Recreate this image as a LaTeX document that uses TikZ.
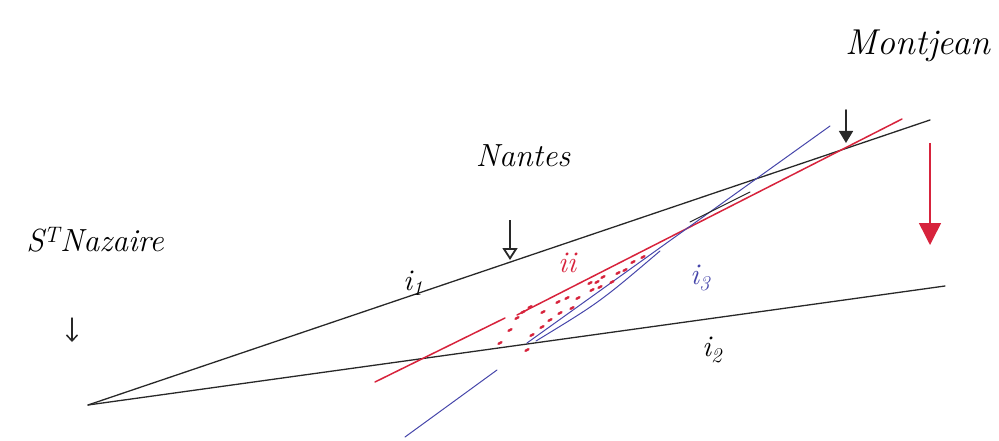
\documentclass[tikz,border=0pt]{standalone}
\usepackage{fontspec}
\usetikzlibrary{arrows.meta}
\definecolor{pred}{RGB}{215,35,60}
\definecolor{pblue}{RGB}{70,70,170}
\definecolor{pink}{RGB}{40,40,40}
\tikzset{
  pen/.style={draw=pink, line width=1.3pt, line cap=round},
  redpen/.style={draw=pred, line width=1.5pt, line cap=round},
  bluepen/.style={draw=pblue, line width=1.0pt, line cap=round},
  reddot/.style={draw=pred, line width=2.4pt, line cap=round},
  hand/.style={inner sep=0pt, font=\itshape},
  placearrow/.style={draw=pink, line width=1.6pt, -{Triangle[open, length=12pt, width=15pt, line width=1.8pt]}},
}
\begin{document}
\begin{tikzpicture}[x=1pt,y=-1pt]
\useasboundingbox (0,0) rectangle (999,441);
% main frame lines
\coordinate (A) at (88,405);
\coordinate (U) at (930,120);
\coordinate (L) at (945,286);
\draw[pen] (A) -- (U);
\draw[pen] (A) -- (L);
% red line
\coordinate (r1) at (375,382);
\coordinate (r2) at (505,318);
\coordinate (r3) at (517,315);
\coordinate (r4) at (902,119);
\draw[redpen] (r1) -- (r2);
\draw[redpen] (r3) -- (r4);
% blue line
\coordinate (b1) at (405,437);
\coordinate (b2) at (497,370);
\coordinate (b3) at (527,343);
\coordinate (b4) at (830,126);
\coordinate (b5) at (536,341);
\coordinate (b6) at (660,251);
\draw[bluepen] (b1) -- (b2);
\draw[bluepen] (b3) -- (b4);
\draw[bluepen] (b5) .. controls (600,302) .. (b6);
\draw[pen, line width=1.1pt] (690,222) -- (750,192);
% dotted red region
\foreach \p in {(500,343),(510,330),(517,318),(523,312),(530,307),
  (590,283),(597,282),(603,277),(618,273),(633,262),(643,257),
  (592,290),(600,287),(567,298),(578,298),(558,302),(572,308),
  (543,312),(560,313),(550,320),(542,327),(532,335),(527,350),(612,282),(625,270)}
  {\draw[reddot] \p ++(-1.5,0.8) -- ++(3,-1.6);}
% labels
\node[hand, font=\itshape\fontsize{36}{36}\selectfont] (mont) at (918,46) {Montjean};
\node[hand, font=\itshape\fontsize{32}{32}\selectfont] (nan) at (523,156) {Nantes};
\node[hand, font=\itshape\fontsize{32}{32}\selectfont] (naz) at (95,240) {S\textsuperscript{T}Nazaire};
\node[hand, font=\itshape\fontsize{30}{30}\selectfont] (i1) at (413,283) {i\textsubscript{1}};
\node[hand, font=\itshape\fontsize{30}{30}\selectfont] (i2) at (712,350) {i\textsubscript{2}};
\node[hand, text=pblue, font=\itshape\fontsize{30}{30}\selectfont] (i3) at (700,278) {i\textsubscript{3}};
\node[hand, text=pred, font=\itshape\fontsize{30}{30}\selectfont] (ii) at (567,263) {ii};
% place arrows
\coordinate (s1) at (72,318);
\coordinate (s2) at (72,342);
\draw[pen, line width=1.5pt, -{Straight Barb[length=6pt, width=11pt, line width=1.5pt]}] (s1) -- (s2);
\coordinate (n1) at (510,220);
\coordinate (n2) at (510,260);
\draw[placearrow] (n1) -- (n2);
\coordinate (m1) at (846,110);
\coordinate (m2) at (846,143);
\draw[pen, line width=1.6pt, -{Triangle[length=12pt, width=14pt]}] (m1) -- (m2);
% red arrow
\coordinate (ra1) at (930,143);
\coordinate (ra2) at (930,245);
\draw[pred, line width=1.5pt, -{Triangle[length=22pt, width=22pt]}] (ra1) -- (ra2);
\end{tikzpicture}
\end{document}
